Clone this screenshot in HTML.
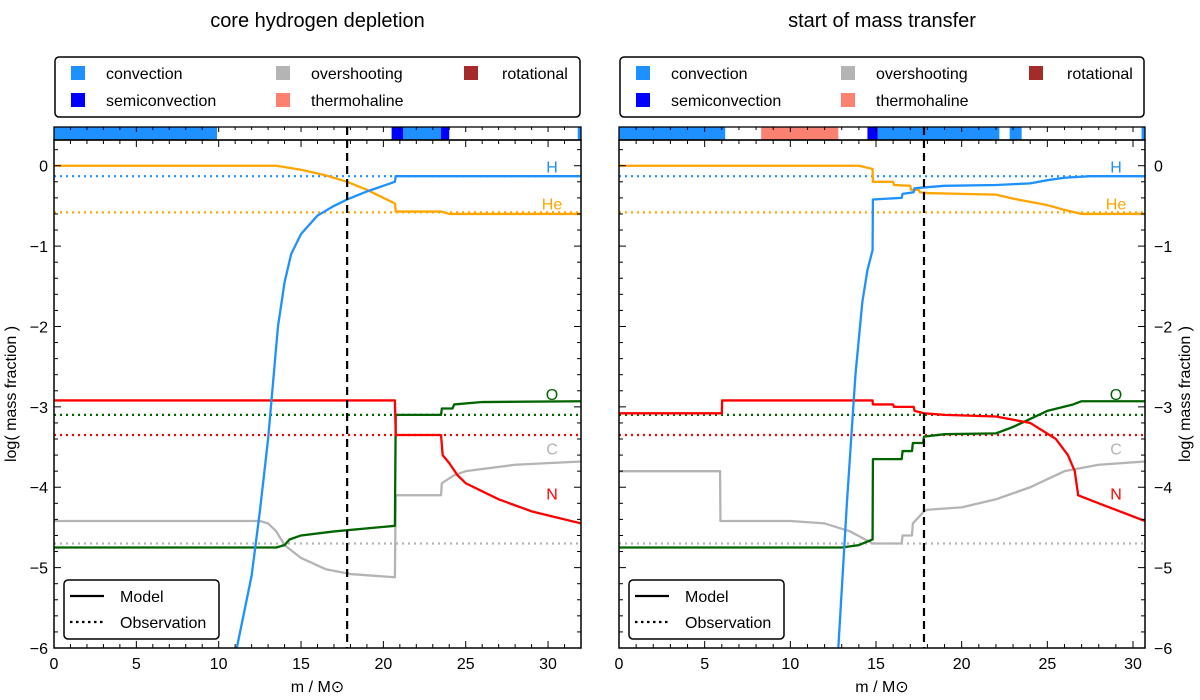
<!DOCTYPE html>
<html><head><meta charset="utf-8"><style>
body{margin:0;background:#fff;}
svg{display:block;font-family:"Liberation Sans",sans-serif;}
</style></head><body>
<svg id="chart" width="1200" height="700" viewBox="0 0 1200 700"></svg>
<script>
// ---------- data ----------
// Left panel: core hydrogen depletion
const L_H_x  = [11.1,12,12.5,13,13.3,13.6,14,14.4,15,16,17,17.8,19,20.7,20.75,32];
const L_H_y  = [-6,-5.1,-4.3,-3.4,-2.7,-2.0,-1.45,-1.1,-0.85,-0.62,-0.5,-0.42,-0.32,-0.2,-0.13,-0.13];
const L_He_x = [0,13.5,15,16.5,17.8,19,20.7,20.75,23.5,24,32];
const L_He_y = [0,0,-0.05,-0.12,-0.2,-0.3,-0.47,-0.57,-0.57,-0.6,-0.6];
const L_N_x  = [0,20.7,20.75,23.5,23.6,24,24.5,25,27,29,32];
const L_N_y  = [-2.92,-2.92,-3.35,-3.35,-3.6,-3.7,-3.85,-3.95,-4.15,-4.3,-4.45];
const L_O_x  = [0,13.5,14,14.3,15,17,20.7,20.75,23.5,23.55,24.2,24.3,26,32];
const L_O_y  = [-4.75,-4.75,-4.72,-4.65,-4.6,-4.55,-4.48,-3.1,-3.1,-3.02,-3.02,-2.97,-2.94,-2.93];
const L_C_x  = [0,12.5,13,13.5,14,15,16.5,18,20.7,20.75,23.5,23.55,24.3,25,28,32];
const L_C_y  = [-4.42,-4.42,-4.45,-4.55,-4.72,-4.88,-5.02,-5.08,-5.12,-4.1,-4.1,-3.95,-3.85,-3.8,-3.72,-3.68];
const L_conv = [[0,9.9],[21.2,23.5],[31.8,32]];
const L_semi = [[20.5,21.2],[23.5,24.0]];
const L_thermo = [];
// Right panel: start of mass transfer
const R_H_x  = [12.8,13.3,13.8,14.2,14.5,14.8,14.82,16.5,16.55,17.2,17.25,17.8,19,22,24,25,26,27.5,30.7];
const R_H_y  = [-6,-4.2,-2.6,-1.7,-1.3,-1.05,-0.42,-0.4,-0.35,-0.33,-0.28,-0.27,-0.25,-0.24,-0.22,-0.18,-0.15,-0.13,-0.13];
const R_He_x = [0,14,14.8,14.82,16,16.05,17,17.05,17.5,17.55,18,20,22,23,24,25,26,27,30.7];
const R_He_y = [0,0,-0.04,-0.2,-0.2,-0.24,-0.25,-0.3,-0.3,-0.33,-0.34,-0.35,-0.36,-0.41,-0.45,-0.49,-0.55,-0.6,-0.6];
const R_N_x  = [0,6,6.02,14.8,14.82,16,16.05,17.2,17.25,17.8,19,22,24,25.5,26.2,26.6,26.8,28,30.7];
const R_N_y  = [-3.08,-3.08,-2.92,-2.92,-2.97,-2.97,-3.0,-3.0,-3.05,-3.08,-3.1,-3.12,-3.2,-3.4,-3.6,-3.8,-4.1,-4.2,-4.42];
const R_O_x  = [0,13,14,14.8,14.82,16.5,16.55,17.1,17.15,17.75,17.8,19,22,23,24,25,26.5,27,30.7];
const R_O_y  = [-4.75,-4.75,-4.72,-4.65,-3.65,-3.65,-3.55,-3.55,-3.45,-3.45,-3.37,-3.34,-3.33,-3.25,-3.15,-3.05,-2.97,-2.93,-2.93];
const R_C_x  = [0,5.9,5.92,10,12,13.5,14.8,16.5,16.55,17.1,17.15,17.8,18,20,22,24,25,26,28,30.7];
const R_C_y  = [-3.8,-3.8,-4.42,-4.42,-4.45,-4.55,-4.7,-4.7,-4.6,-4.6,-4.45,-4.3,-4.28,-4.25,-4.15,-4.0,-3.9,-3.8,-3.72,-3.68];
const R_conv = [[0,6.2],[15.1,22.2],[22.8,23.5],[30.5,30.7]];
const R_semi = [[14.5,15.1]];
const R_thermo = [[8.3,12.8]];
// Observations (both panels)
const obsNames = ["H","He","O","N","C"];
const obsValues = [-0.13,-0.58,-3.1,-3.35,-4.7];
const xTicks = [0,5,10,15,20,25,30];
const yTicks = [0,-1,-2,-3,-4,-5,-6];
const yTickLabels = ["0","−1","−2","−3","−4","−5","−6"];
const markerX = 17.8;

// ---------- drawing ----------
const NS="http://www.w3.org/2000/svg";
const svg=document.getElementById('chart');
function el(tag,attrs,parent){const e=document.createElementNS(NS,tag);for(const k in attrs)e.setAttribute(k,attrs[k]);(parent||svg).appendChild(e);return e;}
const COL={H:"#1e90ff",He:"#ffa500",O:"#006400",N:"#ff0000",C:"#b4b4b4"};
const yTop=140,yBot=648,yMin=-6,yMax=0.32;
function sy(v){return yBot-(v-yMin)/(yMax-yMin)*(yBot-yTop);}

function panel(o){
  const g=el('g',{});
  
  
  const sx=v=>o.x0+(v-0)/(o.xmax)*(o.x1-o.x0);
  const t=el('text',{x:(o.x0+o.x1)/2,y:27,'font-size':20,'text-anchor':'middle'},g);t.textContent=o.title;
  
  const lg=el('g',{},g);
  el('rect',{x:o.x0+1,y:57,width:o.x1-o.x0-2,height:60,rx:4,fill:'#fff',stroke:'#000','stroke-width':1.5},lg);
  const items=[["convection","#1e90ff",0,0],["semiconvection","#0000ff",0,1],["overshooting","#b4b4b4",1,0],["thermohaline","#fa8072",1,1],["rotational","#a52a2a",2,0]];
  const colX=[o.x0+17,o.x0+222,o.x0+410];
  items.forEach(it=>{
    const e=el('g',{},lg);
    const cx=colX[it[2]],cy=73+it[3]*27;
    el('rect',{x:cx,y:cy-7,width:14,height:14,fill:it[1]},e);
    const tx=el('text',{x:cx+(it[2]==2?38:35),y:cy+6,'font-size':16},e);tx.textContent=it[0];
  });
  const bar=el('g',{},g);
  const bt=127,bb=140;
  o.conv.forEach(r=>{const b=el('rect',{x:sx(r[0]),y:bt,width:sx(r[1])-sx(r[0]),height:bb-bt,fill:'#1e90ff'},bar);});
  o.semi.forEach(r=>{const b=el('rect',{x:sx(r[0]),y:bt,width:sx(r[1])-sx(r[0]),height:bb-bt,fill:'#0000ff'},bar);});
  o.thermo.forEach(r=>{const b=el('rect',{x:sx(r[0]),y:bt,width:sx(r[1])-sx(r[0]),height:bb-bt,fill:'#fa8072'},bar);});
  el('rect',{x:o.x0,y:bt,width:o.x1-o.x0,height:bb-bt,fill:'none',stroke:'#000','stroke-width':1.3},bar);
  for(let v=0;v<=o.xmax;v+=1){el('line',{x1:sx(v),x2:sx(v),y1:bt,y2:bt+(v%5==0?5:3),stroke:'#000','stroke-width':1},bar);}
  const cid='clip'+o.id;
  const cp=el('clipPath',{id:cid},g);el('rect',{x:o.x0,y:yTop,width:o.x1-o.x0,height:yBot-yTop},cp);
  const plot=el('g',{'clip-path':'url(#'+cid+')'},g);
  obsNames.forEach((n,i)=>{const l=el('line',{x1:o.x0,x2:o.x1,y1:sy(obsValues[i]),y2:sy(obsValues[i]),stroke:COL[n],'stroke-width':2.2,'stroke-dasharray':'2,4'},plot);
    });
  const draw=(xs,ys,n)=>{const p=el('polyline',{points:xs.map((x,i)=>sx(x)+','+sy(ys[i])).join(' '),fill:'none',stroke:COL[n],'stroke-width':2.3,'stroke-linejoin':'round'},plot);
    };
  draw(o.C[0],o.C[1],'C');draw(o.O[0],o.O[1],'O');draw(o.N[0],o.N[1],'N');draw(o.He[0],o.He[1],'He');draw(o.H[0],o.H[1],'H');
  const vm=el('line',{x1:sx(markerX),x2:sx(markerX),y1:bt,y2:yBot,stroke:'#000','stroke-width':2.2,'stroke-dasharray':'8,5'},g);
  
  const labs=[["H",-0.01],["He",-0.47],["O",-2.84],["C",-3.52],["N",-4.08]];
  labs.forEach(a=>{const tx=el('text',{x:o.x1-29,y:sy(a[1])+6,'font-size':16,fill:COL[a[0]],'text-anchor':'middle'},g);tx.textContent=a[0];
    });
  el('rect',{x:o.x0,y:yTop,width:o.x1-o.x0,height:yBot-yTop,fill:'none',stroke:'#000','stroke-width':1.5},g);
  for(let v=0;v<=o.xmax;v+=1){const L=v%5==0?7:4;el('line',{x1:sx(v),x2:sx(v),y1:yBot,y2:yBot-L,stroke:'#000'},g);el('line',{x1:sx(v),x2:sx(v),y1:yTop,y2:yTop+L,stroke:'#000'},g);}
  for(let k=0;k<=31;k++){const v=-6+k*0.2;const L=(k%5==0)?7:4;const y=sy(v);el('line',{x1:o.x0,x2:o.x0+L,y1:y,y2:y,stroke:'#000'},g);el('line',{x1:o.x1,x2:o.x1-L,y1:y,y2:y,stroke:'#000'},g);}
  xTicks.forEach(v=>{const tx=el('text',{x:sx(v),y:yBot+21,'font-size':16,'text-anchor':'middle'},g);tx.textContent=v;});
  yTicks.forEach((v,i)=>{const tx=el('text',{x:o.yLabRight?o.x1+9:o.x0-6,y:sy(v)+6,'font-size':16,'text-anchor':o.yLabRight?'start':'end'},g);tx.textContent=yTickLabels[i];});
  const xt=el('text',{x:(o.x0+o.x1)/2,y:692,'font-size':16,'text-anchor':'middle'},g);xt.textContent='m / M\u2299';
  
  const ax=o.yLabRight?o.x1+45:o.x0-38;
  const yt=el('text',{x:ax,y:(yTop+yBot)/2,'font-size':16,'text-anchor':'middle',transform:`rotate(-90 ${ax} ${(yTop+yBot)/2})`},g);yt.textContent='log( mass fraction )';
  
  const ml=el('g',{},g);
  el('rect',{x:o.x0+10,y:580,width:155,height:59,rx:4,fill:'#fff',stroke:'#000','stroke-width':1.5},ml);
  el('line',{x1:o.x0+16,x2:o.x0+50,y1:596,y2:596,stroke:'#000','stroke-width':2.3},ml);
  el('line',{x1:o.x0+16,x2:o.x0+50,y1:622,y2:622,stroke:'#000','stroke-width':2.3,'stroke-dasharray':'2.5,3.5'},ml);
  let tx=el('text',{x:o.x0+66,y:602,'font-size':16},ml);tx.textContent='Model';
  tx=el('text',{x:o.x0+66,y:628,'font-size':16},ml);tx.textContent='Observation';
}
panel({id:'L',name:'left-panel-core-hydrogen-depletion',title:'core hydrogen depletion',x0:54,x1:581,xmax:32,
  H:[L_H_x,L_H_y],He:[L_He_x,L_He_y],N:[L_N_x,L_N_y],O:[L_O_x,L_O_y],C:[L_C_x,L_C_y],conv:L_conv,semi:L_semi,thermo:L_thermo,yLabRight:false});
panel({id:'R',name:'right-panel-start-of-mass-transfer',title:'start of mass transfer',x0:619,x1:1145,xmax:30.7,
  H:[R_H_x,R_H_y],He:[R_He_x,R_He_y],N:[R_N_x,R_N_y],O:[R_O_x,R_O_y],C:[R_C_x,R_C_y],conv:R_conv,semi:R_semi,thermo:R_thermo,yLabRight:true});
</script>
</body></html>
